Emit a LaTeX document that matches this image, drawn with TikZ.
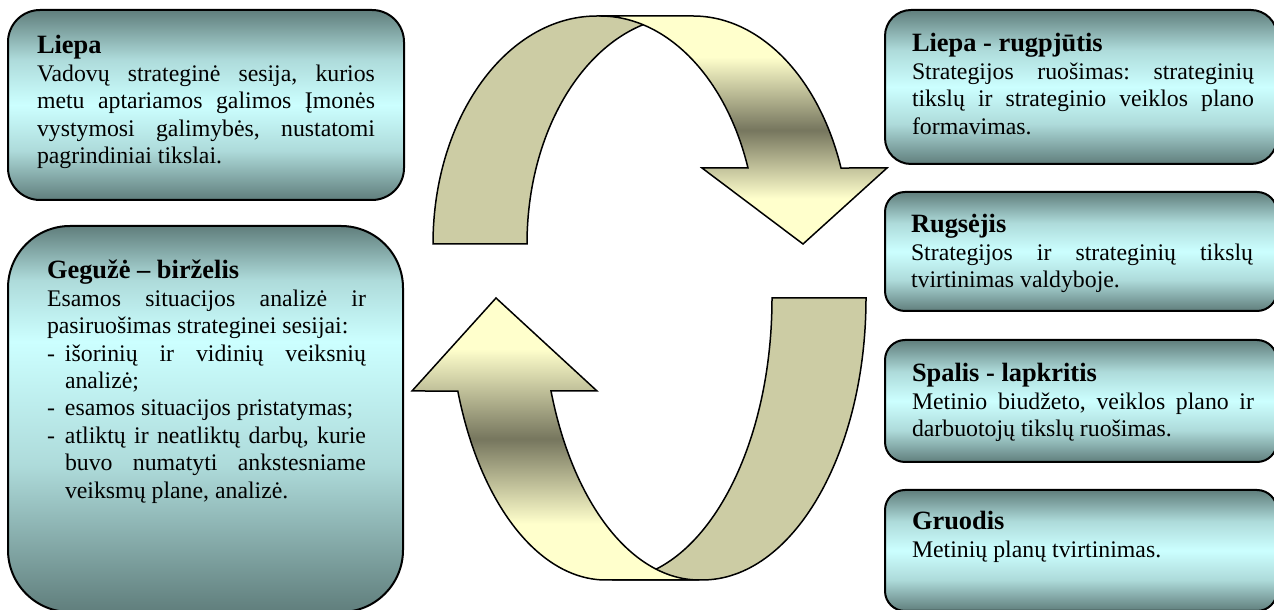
\documentclass[tikz,border=0pt]{standalone}
\usepackage{fontspec}
\setmainfont{Liberation Serif}
\definecolor{boxdark}{RGB}{96,126,124}
\definecolor{boxlight}{RGB}{204,255,255}
\definecolor{khaki}{RGB}{204,204,164}
\definecolor{arrlight}{RGB}{255,255,204}
\definecolor{arrdark}{RGB}{118,118,94}
\colorlet{boxmid}{boxlight!72!boxdark}
\pgfdeclareverticalshading{boxshade}{100bp}{color(0bp)=(boxdark); color(25bp)=(boxdark); color(38bp)=(boxmid); color(50bp)=(boxlight); color(62bp)=(boxmid); color(75bp)=(boxdark); color(100bp)=(boxdark)}
\pgfdeclareverticalshading{tallshade}{100bp}{color(0bp)=(boxdark); color(25bp)=(boxdark); color(44bp)=(boxmid); color(60bp)=(boxlight); color(68bp)=(boxmid); color(75bp)=(boxdark); color(100bp)=(boxdark)}
\pgfdeclareverticalshading{arrowshade}{100bp}{color(0bp)=(arrlight); color(35bp)=(arrlight); color(50bp)=(arrdark); color(66bp)=(arrlight); color(100bp)=(arrlight)}
\newcommand\boxtext[3]{\parbox[t]{#1}{\frenchspacing\setlength\parindent{0pt}\hyphenpenalty=10000 \exhyphenpenalty=10000 \tolerance=10000 {\fontsize{13.2pt}{14pt}\selectfont\bfseries #2\par}\fontsize{11.9pt}{13.7pt}\selectfont #3}}
\newcommand\dashitem{\hangindent=9pt\hangafter=1 \makebox[9pt][l]{-}}
\begin{document}
\begin{tikzpicture}[x=0.5pt,y=0.5pt,
  panel/.style={draw=black, line width=1pt, shade, shading=boxshade, inner sep=0pt, outer sep=0pt},
  tallpanel/.style={panel, shading=tallshade},
  ribbonback/.style={draw=black, line width=0.75pt, fill=khaki},
  ribbonfront/.style={draw=black, line width=0.75pt, shade, shading=arrowshade},
  txt/.style={anchor=base west, inner sep=0pt, outer sep=0pt}]
\useasboundingbox (0,0) rectangle (1274,610);
% circular arrows
\draw[ribbonback] (433,366) arc[start angle=180,end angle=90,x radius=82pt,y radius=114pt] -- (687,594) arc[start angle=90,end angle=180,x radius=80pt,y radius=114pt] -- cycle;
\draw[ribbonfront] (600,594) -- (693,594) arc[start angle=90,end angle=19.47,x radius=78.5pt,y radius=114pt] -- (887,442) -- (803,366) -- (702,442) -- (748,442) arc[start angle=19.47,end angle=90,x radius=78.5pt,y radius=114pt] -- cycle;
\draw[ribbonback] (866,312) arc[start angle=0,end angle=-90,x radius=82pt,y radius=141pt] -- (612,30) arc[start angle=-90,end angle=0,x radius=80pt,y radius=141pt] -- cycle;
\draw[ribbonfront] (699,30) -- (606,30) arc[start angle=270,end angle=199.26,x radius=78.5pt,y radius=141pt] -- (412,219) -- (496,312) -- (597,219) -- (551,219) arc[start angle=199.26,end angle=270,x radius=78.5pt,y radius=141pt] -- cycle;
% panels
\node[panel, minimum width=198pt, minimum height=95pt, rounded corners=16pt] (liepaBox) at (206,505) {};
\node[tallpanel, minimum width=197.5pt, minimum height=193pt, rounded corners=31pt] (geguzeBox) at (205.5,191) {};
\node[panel, minimum width=196pt, minimum height=77pt, rounded corners=13pt] (rugpBox) at (1081,523) {};
\node[panel, minimum width=196pt, minimum height=59.5pt, rounded corners=10pt] (rugsBox) at (1081,358.5) {};
\node[panel, minimum width=196pt, minimum height=61pt, rounded corners=10pt] (spalBox) at (1081,209) {};
\node[panel, minimum width=196pt, minimum height=60.5pt, rounded corners=10pt] (gruoBox) at (1081,59.5) {};
% texts
\node[txt] (liepaTxt) at (37,556) {\boxtext{169pt}{Liepa}{Vadovų strateginė sesija, kurios\linebreak metu aptariamos galimos Įmonės\linebreak vystymosi galimybės, nustatomi\linebreak pagrindiniai tikslai.}};
\node[txt] (geguzeTxt) at (47,331) {\boxtext{159.5pt}{Gegužė – birželis}{Esamos situacijos analizė ir\linebreak pasiruošimas strateginei sesijai:\par
\dashitem išorinių ir vidinių veiksnių\linebreak analizė;\par
\dashitem esamos situacijos pristatymas;\par
\dashitem atliktų ir neatliktų darbų, kurie\linebreak buvo numatyti ankstesniame\linebreak veiksmų plane, analizė.}};
\node[txt] (rugpTxt) at (912,558) {\boxtext{171pt}{Liepa - rugpjūtis}{Strategijos ruošimas: strateginių\linebreak tikslų ir strateginio veiklos plano\linebreak formavimas.}};
\node[txt] (rugsTxt) at (911,377) {\boxtext{171pt}{Rugsėjis}{Strategijos ir strateginių tikslų\linebreak tvirtinimas valdyboje.}};
\node[txt] (spalTxt) at (912,228) {\boxtext{171pt}{Spalis - lapkritis}{Metinio biudžeto, veiklos plano ir\linebreak darbuotojų tikslų ruošimas.}};
\node[txt] (gruoTxt) at (912,80) {\boxtext{171pt}{Gruodis}{Metinių planų tvirtinimas.}};
\end{tikzpicture}
\end{document}
